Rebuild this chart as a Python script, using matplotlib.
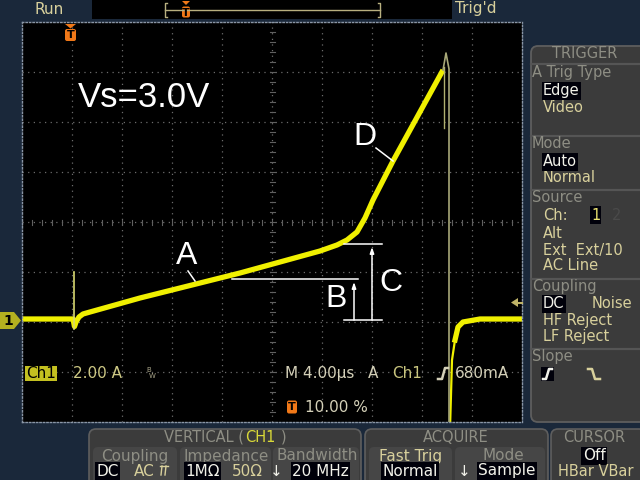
import numpy as np
import matplotlib
matplotlib.use('Agg')
import matplotlib.pyplot as plt
from matplotlib.patches import FancyBboxPatch, Rectangle, Polygon

# ---- waveform (time in us, current in A) ----
trace_t = [-4.0, 0.08, 0.2, 0.32, 0.56, 0.88, 1.44, 5.44, 13.44, 19.84,
           21.2, 22.0, 22.8, 23.44, 24.08, 25.68, 29.68]
trace_i = [0.0, 0.0, -0.3, -0.12, 0.08, 0.2, 0.28, 0.84, 1.84, 2.72,
           2.96, 3.16, 3.48, 4.04, 4.76, 6.32, 9.96]
# recovery after turn-off
rec_t = [30.24, 30.4, 30.64, 30.88, 31.28, 32.64, 36.0]
rec_i = [-4.4, -1.64, -0.84, -0.32, -0.12, 0.0, 0.0]
# thin glitches
glitch_t = [0.12, 0.12]
glitch_i = [1.88, -0.4]
drop_t = [29.68, 29.92, 30.16, 30.16]
drop_i = [9.96, 10.64, 10.0, -4.4]
ring_t = [29.76, 29.76]
ring_i = [10.08, 7.64]

# ---- annotations (us, A) ----
level_b = 1.6
level_c = 3.0
level_0 = -0.04
b_line_t = [12.8, 22.88]
bc_base_t = [21.76, 24.8]
arrow_b_t = 22.56
arrow_c_t = 24.0
a_ptr_t, a_ptr_i = [9.28, 9.84], [1.92, 1.52]
d_ptr_t, d_ptr_i = [24.32, 25.68], [6.84, 6.32]
letters = [('A', 9.2, 2.5), ('B', 21.12, 0.8), ('C', 25.52, 1.44), ('D', 23.44, 7.28)]

# ---- scope settings ----
US_DIV = 4.0
A_DIV = 2.0
GND_DIV = -1.94

BG = '#1a283a'
KHAKI = '#d8d09c'
GRAY_TXT = '#8e8e84'
HI_TXT = '#f2f2ea'
YEL = '#f0f000'
ORANGE = '#f07818'
PANEL = '#3b3b3b'
PANEL_EDGE = '#5e5e5e'
FONT = 'DejaVu Sans'

fig = plt.figure(figsize=(6.4, 4.8), dpi=100, facecolor=BG)

# background UI layer in pixel coordinates
ui = fig.add_axes([0, 0, 1, 1], zorder=0)
ui.set_xlim(0, 640)
ui.set_ylim(480, 0)
ui.axis('off')

# graticule
ax = fig.add_axes([22 / 640, 58 / 480, 500 / 640, 400 / 480], zorder=1)
ax.set_facecolor('black')
ylo = (-4 - GND_DIV) * A_DIV
yhi = (4 - GND_DIV) * A_DIV
x0 = -US_DIV
ax.set_xlim(x0, x0 + 10 * US_DIV)
ax.set_ylim(ylo, yhi)
ax.set_xticks([])
ax.set_yticks([])
for s in ax.spines.values():
    s.set_color('#8a96a6')
    s.set_linestyle((0, (1, 1.5)))
    s.set_linewidth(1.0)
for k in range(1, 10):
    ax.axvline(x0 + k * US_DIV, color='#6c6c6c', lw=0.9, ls=(0, (1, 3.5)))
for k in range(1, 8):
    ax.axhline(ylo + k * A_DIV, color='#6c6c6c', lw=0.9, ls=(0, (1, 3.5)))
# center tick marks
xc = x0 + 5 * US_DIV
yc = ylo + 4 * A_DIV
for j in range(51):
    t = x0 + j * US_DIV / 5
    ax.plot([t, t], [yc - 0.1, yc + 0.1], color='#606060', lw=0.8)
for j in range(41):
    v = ylo + j * A_DIV / 5
    ax.plot([xc - 0.2, xc + 0.2], [v, v], color='#606060', lw=0.8)

# trace
ax.plot(trace_t, trace_i, color=YEL, lw=3.8, solid_capstyle='butt', solid_joinstyle='round')
ax.plot(rec_t[:3], rec_i[:3], color=YEL, lw=1.6, solid_joinstyle='round')
ax.plot(rec_t[2:], rec_i[2:], color=YEL, lw=3.8, solid_joinstyle='round')
ax.plot(glitch_t, glitch_i, color='#d8d870', lw=1.2)
ax.plot(drop_t, drop_i, color='#a8a878', lw=1.2)
ax.plot(ring_t, ring_i, color='#b0b070', lw=1.0)

# annotations
W = 'white'
ax.plot(b_line_t, [level_b, level_b], color=W, lw=1.1)
ax.plot(bc_base_t, [level_0, level_0], color=W, lw=1.1)
ax.plot(bc_base_t, [level_c, level_c], color=W, lw=1.1)
for t, top in [(arrow_b_t, level_b), (arrow_c_t, level_c)]:
    ax.annotate('', xy=(t, top - 0.12), xytext=(t, level_0),
                arrowprops=dict(arrowstyle='-|>,head_length=0.35,head_width=0.12',
                                color=W, lw=1.1, shrinkA=0, shrinkB=0))
ax.plot(a_ptr_t, a_ptr_i, color=W, lw=1.1)
ax.plot(d_ptr_t, d_ptr_i, color=W, lw=1.1)
for s, t, v in letters:
    ax.text(t, v, s, color=W, fontsize=23, family='Liberation Sans',
            ha='center', va='center')
ax.text(0.48, 8.48, 'Vs=3.0V', color=W, fontsize=25, family='Liberation Sans',
        ha='left', va='baseline')

# foreground UI layer
fg = fig.add_axes([0, 0, 1, 1], zorder=3)
fg.set_xlim(0, 640)
fg.set_ylim(480, 0)
fg.axis('off')
fg.patch.set_visible(False)


def txt(a, x, y, s, color=KHAKI, size=10.5, ha='left', hi=False):
    bbox = None
    if hi:
        bbox = dict(boxstyle='square,pad=0.08', fc='#00000a', ec='none')
    a.text(x, y, s, color=color, fontsize=size, ha=ha, va='center',
           family=FONT, bbox=bbox)


def tmark(a, x, y, w=10, h=12):
    a.add_patch(FancyBboxPatch((x - w / 2, y - h / 2), w, h,
                               boxstyle='round,pad=0,rounding_size=2',
                               fc=ORANGE, ec='none'))
    a.text(x, y + 0.5, 'T', color='black', fontsize=8, fontweight='bold',
           ha='center', va='center', family=FONT)


# ---- top bar ----
txt(ui, 35, 9, 'Run', size=11)
txt(ui, 455, 9, "Trig'd", size=11)
ui.add_patch(Rectangle((92, 0), 360, 19, fc='black', ec='none'))
ui.plot([165, 380], [10, 10], color='#b8b080', lw=1)
ui.plot([167, 165, 165, 167], [3, 3, 17, 17], color='#b8b080', lw=1)
ui.plot([378, 380, 380, 378], [3, 3, 17, 17], color='#b8b080', lw=1)
ui.add_patch(Polygon([[182, 1], [190, 1], [186, 5]], fc=ORANGE, ec='none'))
tmark(ui, 186, 12, w=8, h=11)

# trigger marker on graticule
fg.add_patch(Polygon([[65, 24], [76, 24], [70.5, 28.5]], fc=ORANGE, ec='none'))
tmark(fg, 70.5, 35, w=11, h=12)

# channel ground marker and trigger level arrow
fg.add_patch(Polygon([[0, 312], [14, 312], [21, 320.5], [14, 329], [0, 329]],
                     fc='#b4b020', ec='none'))
fg.text(8, 321, '1', color='black', fontsize=10, fontweight='bold',
        ha='center', va='center', family=FONT)
fg.add_patch(Polygon([[511, 302.5], [518, 298], [518, 307]], fc='#c0b468', ec='none'))
fg.plot([517, 522], [302.5, 302.5], color='#c0b468', lw=1.5)

# ---- readouts inside graticule ----
fg.add_patch(Rectangle((25, 366), 32, 15, fc='#c4c020', ec='none'))
txt(fg, 41, 373.5, 'Ch1', color='black', size=11, ha='center')
txt(fg, 73, 373.5, '2.00 A', color='#cdc884', size=11)
txt(fg, 146, 370, 'B', color='#a8a488', size=5)
txt(fg, 149, 376, 'W', color='#a8a488', size=5)
txt(fg, 285, 373.5, 'M 4.00µs', color='#d4d0b8', size=11)
txt(fg, 368, 373.5, 'A', color='#d4d0b8', size=11)
txt(fg, 392, 373.5, 'Ch1', color='#c8c47e', size=11)
fg.plot([438, 442, 445, 448], [379, 379, 368, 368], color='#d4d0b8', lw=1.8)
txt(fg, 455, 373.5, '680mA', color='#d4d0b8', size=11)
tmark(fg, 292, 407, w=10, h=13)
txt(fg, 305, 407, '10.00 %', color='#d4d0b8', size=11)

# ---- right trigger menu ----
ui.add_patch(FancyBboxPatch((531, 46), 118, 376,
                            boxstyle='round,pad=0,rounding_size=7',
                            fc=PANEL, ec=PANEL_EDGE, lw=1.3))
for y in [64, 136, 190, 279, 349]:
    ui.plot([531, 640], [y, y], color='#555555', lw=1.6)

menu_headers = [('TRIGGER', 585, 53), ('A Trig Type', 532, 73), ('Mode', 532, 144),
                ('Source', 532, 198), ('Coupling', 532, 287), ('Slope', 532, 357)]
menu_items = [('Video', 543, 107), ('Normal', 543, 178), ('Ch:', 543, 215),
              ('Alt', 543, 233), ('Ext  Ext/10', 543, 250), ('AC Line', 543, 266),
              ('Noise', 592, 304), ('HF Reject', 543, 320), ('LF Reject', 543, 337)]
menu_selected = [('Edge', 543, 91), ('Auto', 543, 162), ('1', 591, 215), ('DC', 543, 304)]
for s, x, y in menu_headers:
    txt(ui, x, y, s, color=GRAY_TXT, size=10.5, ha='center' if s == 'TRIGGER' else 'left')
for s, x, y in menu_items:
    txt(ui, x, y, s, size=10.5)
for s, x, y in menu_selected:
    txt(ui, x, y, s, color=HI_TXT if s != '1' else '#e8e070', size=10.5, hi=True)
txt(ui, 612, 215, '2', color='#4a4a4a', size=10.5)
ui.add_patch(Rectangle((541, 367), 13, 14, fc='#00000a', ec='none'))
ui.plot([543, 546, 549, 552], [379, 379, 369, 369], color=HI_TXT, lw=1.8)
ui.plot([588, 592, 595, 600], [369, 369, 379, 379], color=KHAKI, lw=1.8)

# ---- bottom menus ----
for (x, w) in [(89, 272), (365, 183), (551, 95)]:
    ui.add_patch(FancyBboxPatch((x, 429), w, 60, boxstyle='round,pad=0,rounding_size=7',
                                fc=PANEL, ec=PANEL_EDGE, lw=1.2))
for (x, w) in [(93, 84), (180, 91), (273, 86), (369, 83), (455, 90)]:
    ui.add_patch(FancyBboxPatch((x, 447), w, 40, boxstyle='round,pad=0,rounding_size=5',
                                fc='#464646', ec='none'))

txt(ui, 164, 437, 'VERTICAL (', color=GRAY_TXT, size=10.5)
txt(ui, 245, 437, 'CH1', color='#d8d838', size=10.5)
txt(ui, 281, 437, ')', color=GRAY_TXT, size=10.5)
txt(ui, 456, 437, 'ACQUIRE', color=GRAY_TXT, size=10.5, ha='center')
txt(ui, 594, 437, 'CURSOR', color=GRAY_TXT, size=10.5, ha='center')

bottom_sub = [('Coupling', 135, GRAY_TXT), ('Impedance', 226, GRAY_TXT),
              ('Bandwidth', 317, GRAY_TXT), ('Fast Trig', 411, KHAKI), ('Mode', 503, GRAY_TXT)]
for s, x, c in bottom_sub:
    txt(ui, x, 456, s, color=c, size=11, ha='center')
txt(ui, 594, 456, 'Off', color=HI_TXT, size=11, ha='center', hi=True)

bottom_sel = [('DC', 96), ('1MΩ', 185), ('20 MHz', 292), ('Normal', 382), ('Sample', 478)]
for s, x in bottom_sel:
    txt(ui, x, 471, s, color=HI_TXT, size=11, hi=True)
txt(ui, 134, 471, 'AC', size=11)
ui.plot([160, 168], [466, 466], color=KHAKI, lw=1)
ui.plot([162, 161], [466, 475], color=KHAKI, lw=1)
ui.plot([166, 165], [466, 475], color=KHAKI, lw=1)
txt(ui, 232, 471, '50Ω', size=11)
txt(ui, 276, 471, '↓', color=HI_TXT, size=11, ha='center')
txt(ui, 464, 471, '↓', color=HI_TXT, size=11, ha='center')
txt(ui, 596, 471, 'HBar VBar', size=10.5, ha='center')

fig.savefig('out.png', dpi=100, facecolor=BG)
